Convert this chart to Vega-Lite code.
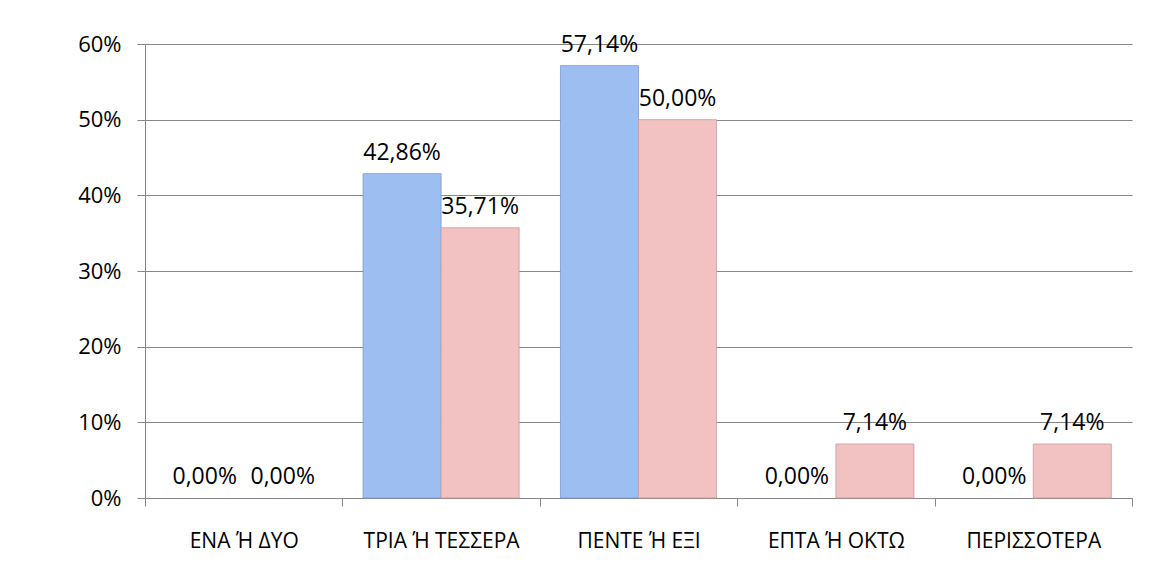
{
  "$schema": "https://vega.github.io/schema/vega-lite/v6.json",
  "width": 987,
  "height": 454,
  "autosize": {"type": "none"},
  "padding": {"left": 145, "top": 44, "right": 40, "bottom": 68},
  "config": {
    "locale": {"number": {"decimal": ",", "thousands": ".", "grouping": [3], "currency": ["", " €"]}},
    "view": {"stroke": null},
    "font": "Open Sans"
  },
  "data": {
    "values": [
      {"cat": "ΕΝΑ Ή ΔΥΟ", "series": "A", "value": 0},
      {"cat": "ΕΝΑ Ή ΔΥΟ", "series": "B", "value": 0},
      {"cat": "ΤΡΙΑ Ή ΤΕΣΣΕΡΑ", "series": "A", "value": 0.4286},
      {"cat": "ΤΡΙΑ Ή ΤΕΣΣΕΡΑ", "series": "B", "value": 0.3571},
      {"cat": "ΠΕΝΤΕ Ή ΕΞΙ", "series": "A", "value": 0.5714},
      {"cat": "ΠΕΝΤΕ Ή ΕΞΙ", "series": "B", "value": 0.5},
      {"cat": "ΕΠΤΑ Ή ΟΚΤΩ", "series": "A", "value": 0},
      {"cat": "ΕΠΤΑ Ή ΟΚΤΩ", "series": "B", "value": 0.0714},
      {"cat": "ΠΕΡΙΣΣΟΤΕΡΑ", "series": "A", "value": 0},
      {"cat": "ΠΕΡΙΣΣΟΤΕΡΑ", "series": "B", "value": 0.0714}
    ]
  },
  "encoding": {
    "x": {
      "field": "cat", "type": "nominal", "sort": null,
      "scale": {"paddingInner": 0, "paddingOuter": 0},
      "axis": {
        "title": null, "labelAngle": 0, "tickBand": "extent", "tickSize": 8,
        "domainColor": "#868686", "tickColor": "#868686", "labelColor": "#000000",
        "labelFontSize": 21, "labelPadding": 24, "grid": false
      }
    },
    "xOffset": {"field": "series", "type": "nominal", "sort": null, "scale": {"paddingOuter": 0.265, "paddingInner": 0}},
    "y": {
      "field": "value", "type": "quantitative",
      "scale": {"domain": [0, 0.6], "nice": false},
      "axis": {
        "title": null, "values": [0, 0.1, 0.2, 0.3, 0.4, 0.5, 0.6], "format": ".0%",
        "tickSize": 8, "domainColor": "#868686", "tickColor": "#868686", "gridColor": "#868686",
        "labelColor": "#000000", "labelFontSize": 22, "labelPadding": 16, "grid": true
      }
    }
  },
  "layer": [
    {
      "mark": {"type": "bar", "strokeWidth": 1},
      "encoding": {
        "color": {"field": "series", "type": "nominal", "scale": {"domain": ["A", "B"], "range": ["#9DBEF0", "#F2C1C1"]}, "legend": null},
        "stroke": {"field": "series", "type": "nominal", "scale": {"domain": ["A", "B"], "range": ["#7A9AD0", "#C79C9C"]}, "legend": null},
        "strokeOpacity": {"condition": {"test": "datum.value === 0", "value": 0}, "value": 0.8}
      }
    },
    {
      "mark": {"type": "text", "baseline": "alphabetic", "dy": -14, "fontSize": 23, "color": "#000000"},
      "encoding": {"text": {"field": "value", "type": "quantitative", "format": ".2%"}}
    }
  ]
}
